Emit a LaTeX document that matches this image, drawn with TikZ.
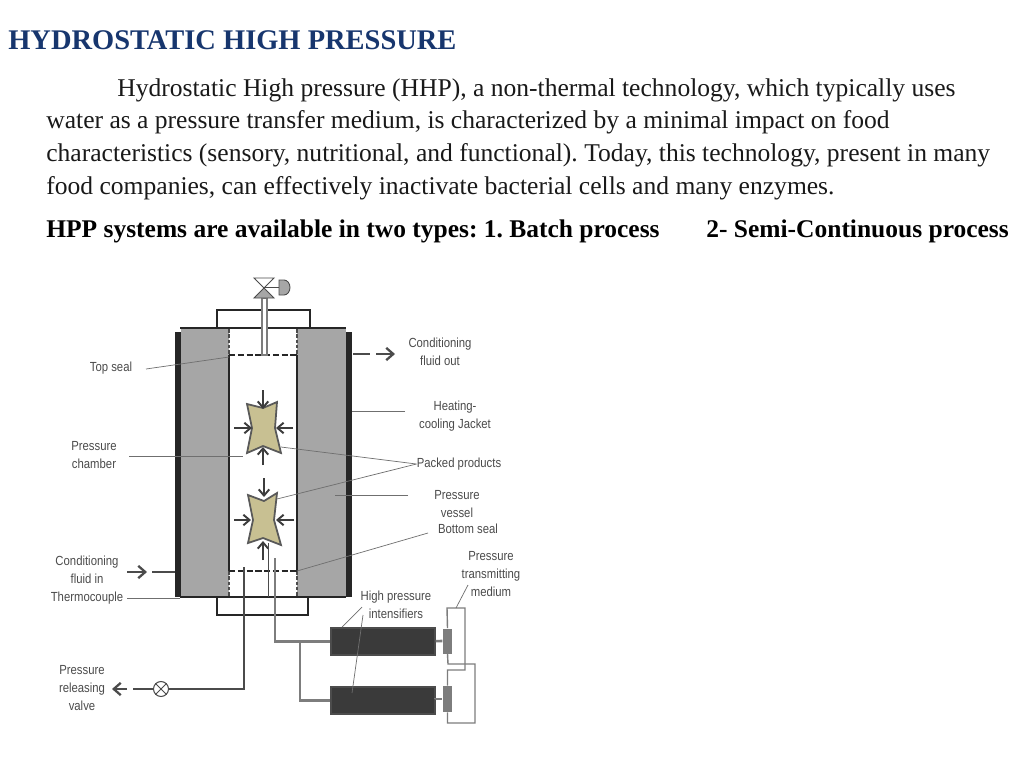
\documentclass[tikz,border=0pt]{standalone}
\usepackage{fontspec}
\setmainfont{Liberation Serif}
\newfontfamily\labelfont[FakeStretch=0.86]{Liberation Sans}
\usetikzlibrary{arrows.meta}
\frenchspacing
\definecolor{titleblue}{RGB}{23,54,110}
\definecolor{wallgray}{RGB}{166,166,166}
\definecolor{packtan}{RGB}{200,192,146}
\definecolor{darkblock}{RGB}{58,58,58}
\definecolor{pipegray}{RGB}{125,125,125}
\definecolor{inkgray}{RGB}{75,75,75}
\tikzset{
  bodytext/.style={anchor=base west,inner sep=0pt,font=\fontsize{14.55}{16}\selectfont,text=black!90},
  boldtext/.style={bodytext,font=\fontsize{14.5}{16}\selectfont\bfseries,text=black},
  partlabel/.style={align=center,inner sep=0pt,text=inkgray,font=\labelfont\fontsize{7.5}{10}\selectfont},
  leader/.style={draw=inkgray!80,line width=0.4pt},
  press/.style={draw=inkgray!80!black,line width=1.1pt,-{Straight Barb[length=3.5pt,width=6pt]}},
  flow/.style={draw=inkgray,line width=1.3pt,-{Straight Barb[length=4pt,width=7pt]}},
  pipe/.style={draw=pipegray,line width=1.5pt},
  thinpipe/.style={draw=pipegray,line width=0.8pt},
  intensifier/.style={draw=black!70,fill=darkblock,line width=0.6pt},
  piston/.style={fill=pipegray},
  product/.style={draw=black!65,fill=packtan,line width=1pt},
}
\begin{document}
\begin{tikzpicture}[x=0.02cm,y=-0.02cm]
  \useasboundingbox[fill=white] (0,0) rectangle (1024,768);
  % heading and text
  \node[anchor=base west,inner sep=0pt,text=titleblue,font=\fontsize{16.2}{18}\selectfont\bfseries] (title) at (8,49) {HYDROSTATIC HIGH PRESSURE};
  \node[bodytext] (line1) at (117,96) {Hydrostatic High pressure (HHP), a non-thermal technology, which typically uses};
  \node[bodytext] (line2) at (46,128) {water as a pressure transfer medium, is characterized by a minimal impact on food};
  \node[bodytext] (line3) at (46,161) {characteristics (sensory, nutritional, and functional). Today, this technology, present in many};
  \node[bodytext] (line4) at (46,194) {food companies, can effectively inactivate bacterial cells and many enzymes.};
  \node[boldtext] (types) at (46,237) {HPP systems are available in two types: 1. Batch process};
  \node[boldtext] (semi) at (706,237) {2- Semi-Continuous process};
  % vessel
  \draw[black!85,line width=1pt,fill=white] (217,328) |- (310,310) -- (310,328);
  \draw[black!85,line width=1pt,fill=white] (217,597) |- (308,615) -- (308,597);
  \fill[black!85] (175,332) rectangle (181,597);
  \fill[black!85] (346,332) rectangle (352,597);
  \fill[wallgray] (181,329) rectangle (229,597);
  \fill[wallgray] (297,329) rectangle (346,597);
  \draw[black!85,line width=1.2pt] (180,328) -- (346,328);
  \draw[black!85,line width=1.2pt] (180,597) -- (346,597);
  \draw[black!85,line width=1pt] (229,355) -- (229,571);
  \draw[black!85,line width=1pt] (297,355) -- (297,571);
  % seals
  \foreach \y/\z in {329/355,571/597} {
    \draw[black!70,line width=0.8pt,dash pattern=on 2pt off 1pt] (229,\y) -- (229,\z);
    \draw[black!70,line width=0.8pt,dash pattern=on 2pt off 1pt] (297,\y) -- (297,\z);
  }
  \draw[black!85,line width=1.4pt,dash pattern=on 3.5pt off 1.5pt] (229,355) -- (297,355);
  \draw[black!85,line width=1.4pt,dash pattern=on 3.5pt off 1.5pt] (229,571) -- (297,571);
  % top valve
  \draw[pipegray,line width=0.6pt,fill=white] (262,298) rectangle (267,355);
  \draw[inkgray,line width=0.5pt,fill=white] (254,278) -- (274,278) -- (264,288) -- cycle;
  \draw[inkgray,line width=0.5pt,fill=wallgray] (254,298) -- (274,298) -- (264,288) -- cycle;
  \draw[inkgray,line width=0.5pt] (264,287) -- (279,287);
  \draw[inkgray,line width=0.5pt,fill=wallgray] (279,280) -- (284,280) arc (-90:90:6 and 7.5) -- (279,295) -- cycle;
  % products
  \draw[product] (247,404) -- (263,408) -- (277,402) -- (275,428) -- (281,453) -- (263,446) -- (247,453) -- (252,428) -- cycle;
  \draw[product] (248,495) -- (264,501) -- (277,493) -- (274,520) -- (281,545) -- (263,538) -- (248,543) -- (253,520) -- cycle;
  \foreach \s/\t in {263/390,264/478} {
    \draw[press] (\s,\t) -- ++(0,19);
  }
  \foreach \x/\a/\b in {263/465/447,263/560/541} {
    \draw[press] (\x,\a) -- (\x,\b);
  }
  \foreach \y/\a/\b in {428/234/252,520/234/251} {
    \draw[press] (\a,\y) -- (\b,\y);
  }
  \foreach \y/\a/\b in {428/293/276,520/294/276} {
    \draw[press] (\a,\y) -- (\b,\y);
  }
  % intensifiers
  \node[intensifier,minimum width=2.08cm,minimum height=0.54cm,inner sep=0pt] (intens1) at (383,641.5) {};
  \node[intensifier,minimum width=2.08cm,minimum height=0.54cm,inner sep=0pt] (intens2) at (383,700.5) {};
  \node[piston,minimum width=0.19cm,minimum height=0.5cm,inner sep=0pt] (piston1) at (447.5,641) {};
  \node[piston,minimum width=0.19cm,minimum height=0.52cm,inner sep=0pt] (piston2) at (447.5,699) {};
  \draw[pipe] (intens1) -- (piston1);
  \draw[pipe] (intens2) -- (piston2 -| intens2.east) -- (piston2.west);
  % medium circuit
  \draw[thinpipe] (piston1.north) -- (447,608) -| (465,670) -| (piston2.north);
  \draw[thinpipe] (piston1.south) -- (448,664) -| (475,723) -| (piston2.south);
  % pipes
  \coordinate (thermotop) at (268,543);
  \coordinate (thermobot) at (268,597);
  \draw[inkgray,line width=0.5pt] (thermotop) -- (thermobot);
  \coordinate (ventstart) at (244,567);
  \coordinate (feedstart) at (275,558);
  \coordinate (branch) at (300,641);
  \draw[pipe] (feedstart) |- (intens1.west);
  \draw[pipe] (branch) |- (intens2.west);
  \node[draw=inkgray,fill=white,circle,line width=0.6pt,minimum size=0.3cm,inner sep=0pt] (relief) at (161,689) {};
  \draw[inkgray,line width=0.5pt] (relief.north west) -- (relief.south east);
  \draw[inkgray,line width=0.5pt] (relief.north east) -- (relief.south west);
  \draw[pipe,draw=inkgray] (ventstart) |- (relief.east);
  \coordinate (reliefstub) at (133,689);
  \draw[pipe,draw=inkgray] (relief.west) -- (reliefstub);
  % conditioning fluid
  \coordinate (outstart) at (353,354);
  \coordinate (outstub) at (370,354);
  \coordinate (outa) at (376,354);
  \coordinate (outb) at (395,354);
  \coordinate (inend) at (175,572);
  \coordinate (instub) at (152,572);
  \coordinate (ina) at (127,572);
  \coordinate (inb) at (147,572);
  \coordinate (relfa) at (127,689);
  \coordinate (relfb) at (112,689);
  \draw[inkgray,line width=1.5pt] (outstart) -- (outstub);
  \draw[flow] (outa) -- (outb);
  \draw[inkgray,line width=1.5pt] (instub) -- (inend);
  \draw[flow] (ina) -- (inb);
  \draw[flow] (relfa) -- (relfb);
  % labels
  \node[partlabel] (outlabel) at (440,352) {Conditioning\\fluid out};
  \node[partlabel] (seallabel) at (111,368) {Top seal};
  \node[partlabel] (jacketlabel) at (455,416) {Heating-\\cooling Jacket};
  \node[partlabel] (chamberlabel) at (94,455) {Pressure\\chamber};
  \node[partlabel] (packedlabel) at (459,464) {Packed products};
  \node[partlabel] (vessellabel) at (457,504) {Pressure\\vessel};
  \node[partlabel] (bottomlabel) at (468,529) {Bottom seal};
  \node[partlabel] (mediumlabel) at (491,574) {Pressure\\transmitting\\medium};
  \node[partlabel] (intenslabel) at (396,605) {High pressure\\intensifiers};
  \node[partlabel] (inlabel) at (87,570) {Conditioning\\fluid in};
  \node[partlabel] (thermolabel) at (87,598) {Thermocouple};
  \node[partlabel] (reliefstext) at (82,688) {Pressure\\releasing\\valve};
  % leaders
  \coordinate (sealend) at (229,357);
  \coordinate (chamberend) at (243,456);
  \coordinate (jacketend) at (352,411);
  \coordinate (pack1end) at (281,447);
  \coordinate (pack2end) at (277,499);
  \coordinate (vesselend) at (335,495);
  \coordinate (bottomend) at (297,571);
  \coordinate (thermoend) at (180,598);
  \coordinate (mediumend) at (456,608);
  \coordinate (int1end) at (342,627);
  \coordinate (int2end) at (352,693);
  \draw[leader] (146,369) -- (sealend);
  \draw[leader] (129,456) -- (chamberend);
  \draw[leader] (405,411) -- (jacketend);
  \draw[leader] (packedlabel.west) -- (pack1end);
  \draw[leader] (packedlabel.west) -- (pack2end);
  \draw[leader] (408,495) -- (vesselend);
  \draw[leader] (428,533) -- (bottomend);
  \draw[leader,shorten <=2pt] (thermolabel.east) -- (thermoend);
  \draw[leader] (468,585) -- (mediumend);
  \draw[leader] (362,607) -- (int1end);
  \draw[leader] (363,615) -- (int2end);
\end{tikzpicture}
\end{document}
